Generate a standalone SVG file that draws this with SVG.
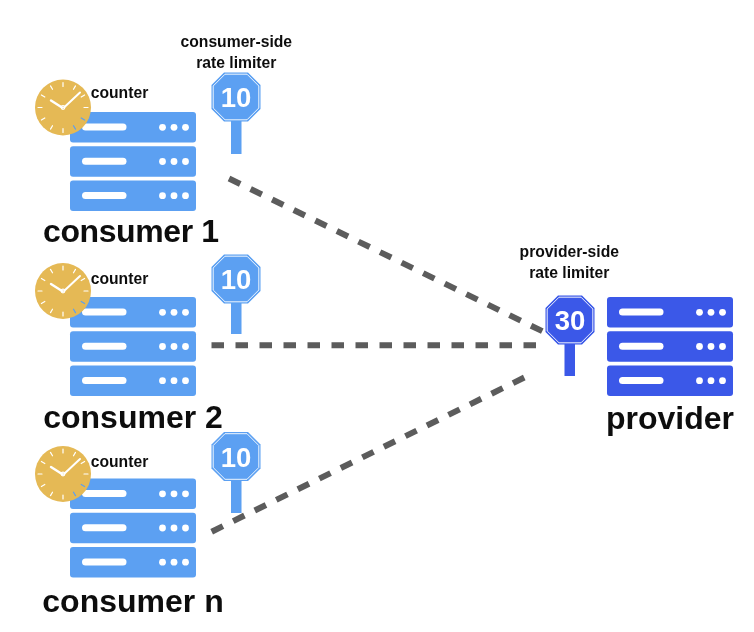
<svg xmlns="http://www.w3.org/2000/svg" xmlns:xlink="http://www.w3.org/1999/xlink" width="754" height="632" viewBox="0 0 754 632">
<style>
text{font-family:"Liberation Sans",Arial,sans-serif;font-weight:bold;fill:#111;text-anchor:middle}
.t{font-size:15.7px}
.n{font-size:32px}
.s{font-size:27.500px;fill:#fff}
.c{stroke:#5c5c5c;stroke-width:6;stroke-dasharray:12.5 11.5;fill:none}
.w{fill:#fff}
.hand{stroke:#fff;stroke-linecap:round;fill:none}
.tick{stroke:#fff;stroke-width:1.2;stroke-linecap:round}
.tb{stroke:#5ba0f2;stroke-width:1.2;stroke-linecap:round}
</style>
<defs>
<filter id="soft" x="0" y="0" width="100%" height="100%"><feGaussianBlur stdDeviation="0.4"/></filter>
<g id="srow">
<rect x="0" y="0" width="126" height="30.500" rx="3"/>
<rect class="w" x="12" y="11.500" width="44.500" height="7" rx="3.500"/>
<circle class="w" cx="92.500" cy="15.300" r="3.400"/>
<circle class="w" cx="104" cy="15.300" r="3.400"/>
<circle class="w" cx="115.500" cy="15.300" r="3.400"/>
</g>
<g id="server">
<use xlink:href="#srow" href="#srow" y="0"/>
<use xlink:href="#srow" href="#srow" y="34.200"/>
<use xlink:href="#srow" href="#srow" y="68.400"/>
</g>
<g id="clock">
<circle r="28" fill="#e5b955"/>
<path class="tick" d="M0-25V-21M12.500-21.600L10.500-18.200M21.600-12.500L18.200-10.500M25 0H21M0 25V21M-12.500 21.600L-10.500 18.200M-21.600 12.500L-18.200 10.500M-25 0H-21M-21.600-12.500L-18.200-10.500M-12.500-21.600L-10.500-18.200"/>
<path class="tb" d="M21.600 12.500L18.200 10.500M12.500 21.600L10.500 18.200"/>
<path class="hand" stroke-width="2" d="M1 0L17-15"/>
<path class="hand" stroke-width="2.400" d="M-1 0L-12-7"/>
<circle r="1.800" fill="none" stroke="#fff" stroke-width="1.200"/>
</g>
<polygon id="octo" points="-12,-24.500 12,-24.500 24.500,-12 24.500,12 12,24.500 -12,24.500 -24.500,12 -24.500,-12"/>
<polygon id="octi" fill="none" stroke="#fff" stroke-width="0.900" points="-11,-22.800 11,-22.800 22.800,-11 22.800,11 11,22.800 -11,22.800 -22.800,11 -22.800,-11"/>
</defs>

<g filter="url(#soft)">
<g id="connectors">
<path class="c" d="M229 178.500L544 332"/>
<path class="c" d="M211.500 345.300H537"/>
<path class="c" d="M211.700 531.700L526 376.700"/>
</g>

<g id="consumer-1">
<use xlink:href="#server" href="#server" x="70" y="112" fill="#5ba0f2"/>
<use xlink:href="#clock" href="#clock" x="63" y="107.500"/>
<text class="t" x="119.500" y="97.500">counter</text>
<text class="n" x="131" y="242" textLength="176" lengthAdjust="spacing">consumer 1</text>
</g>
<g id="limiter-1" fill="#5ba0f2">
<text class="t" x="236.300" y="47">consumer-side</text>
<text class="t" x="236.300" y="67.500">rate limiter</text>
<rect x="231" y="120" width="10.500" height="34"/>
<use xlink:href="#octo" href="#octo" x="236" y="97"/>
<use xlink:href="#octi" href="#octi" x="236" y="97"/>
<text class="s" x="236" y="107">10</text>
</g>

<g id="consumer-2">
<use xlink:href="#server" href="#server" x="70" y="297" fill="#5ba0f2"/>
<use xlink:href="#clock" href="#clock" x="63" y="291"/>
<text class="t" x="119.500" y="283.500">counter</text>
<text class="n" x="133" y="428.300">consumer 2</text>
</g>
<g id="limiter-2" fill="#5ba0f2">
<rect x="231" y="300" width="10.500" height="34"/>
<use xlink:href="#octo" href="#octo" x="236" y="279"/>
<use xlink:href="#octi" href="#octi" x="236" y="279"/>
<text class="s" x="236" y="289">10</text>
</g>

<g id="consumer-n">
<use xlink:href="#server" href="#server" x="70" y="478.500" fill="#5ba0f2"/>
<use xlink:href="#clock" href="#clock" x="63" y="474"/>
<text class="t" x="119.500" y="466.700">counter</text>
<text class="n" x="133" y="611.700">consumer n</text>
</g>
<g id="limiter-n" fill="#5ba0f2">
<rect x="231" y="479" width="10.500" height="34"/>
<use xlink:href="#octo" href="#octo" x="236" y="456.500"/>
<use xlink:href="#octi" href="#octi" x="236" y="456.500"/>
<text class="s" x="236" y="466.500">10</text>
</g>

<g id="provider">
<use xlink:href="#server" href="#server" x="607" y="297" fill="#3b58e8"/>
<text class="n" x="670" y="429">provider</text>
</g>
<g id="limiter-provider" fill="#3b58e8">
<text class="t" x="569.300" y="257">provider-side</text>
<text class="t" x="569.300" y="277.500">rate limiter</text>
<rect x="564.500" y="340" width="10.500" height="36"/>
<use xlink:href="#octo" href="#octo" x="570" y="320"/>
<use xlink:href="#octi" href="#octi" x="570" y="320"/>
<text class="s" x="570" y="330">30</text>
</g>
</g>
</svg>
